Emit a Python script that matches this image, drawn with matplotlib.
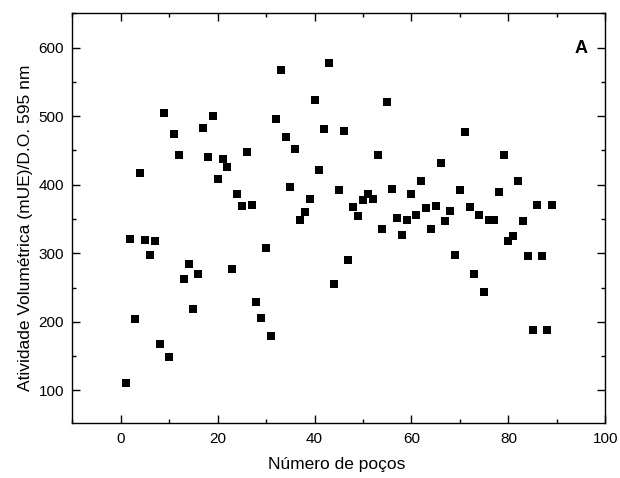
import numpy as np
import matplotlib
matplotlib.use("Agg")
import matplotlib.pyplot as plt
from matplotlib.ticker import MultipleLocator

plt.rcParams['font.family'] = ['Liberation Sans', 'DejaVu Sans']

# numero do poco e atividade volumetrica
pocos = np.arange(1, 90)
atividade = [
    111, 321, 204, 417, 320, 297, 318, 168, 504, 149,
    474, 443, 262, 285, 218, 270, 483, 440, 500, 409,
    437, 426, 277, 387, 369, 448, 371, 229, 205, 308,
    180, 496, 567, 470, 397, 452, 349, 360, 379, 523,
    421, 481, 577, 255, 392, 478, 290, 367, 354, 378,
    386, 379, 443, 335, 520, 394, 352, 327, 349, 387,
    356, 406, 366, 336, 369, 431, 347, 362, 297, 392,
    477, 367, 270, 356, 244, 348, 349, 390, 443, 318,
    325, 405, 347, 296, 188, 371, 296, 188, 371,
]

fig = plt.figure(figsize=(6.2, 4.78), dpi=100)
ax = fig.add_axes([72.3 / 620, 1 - 423.3 / 478, (605.3 - 72.3) / 620, (423.3 - 13.3) / 478])

ax.plot(pocos, atividade, 's', color='black', markersize=6.3, markeredgewidth=0)

ax.set_xlim(-10, 100)
ax.set_ylim(52, 650)
ax.xaxis.set_major_locator(MultipleLocator(20))
ax.xaxis.set_minor_locator(MultipleLocator(10))
ax.yaxis.set_major_locator(MultipleLocator(100))
ax.yaxis.set_minor_locator(MultipleLocator(50))
ax.tick_params(which='both', direction='in', top=True, right=True, width=1, labelsize=11)
ax.tick_params(which='major', length=6, pad=6)
ax.tick_params(which='minor', length=3)
for s in ax.spines.values():
    s.set_linewidth(1)

ax.set_xlabel('Número de poços', fontsize=12.5)
ax.set_ylabel('Atividade Volumétrica (mUE)/D.O. 595 nm', fontsize=12.5)
ax.xaxis.set_label_coords(0.496, -0.082)
ax.yaxis.set_label_coords(-0.074, 0.476)
ax.text(0.955, 0.915, 'A', transform=ax.transAxes, fontsize=13, fontweight='bold',
        ha='center', va='center')

fig.savefig('out.png', dpi=100)
